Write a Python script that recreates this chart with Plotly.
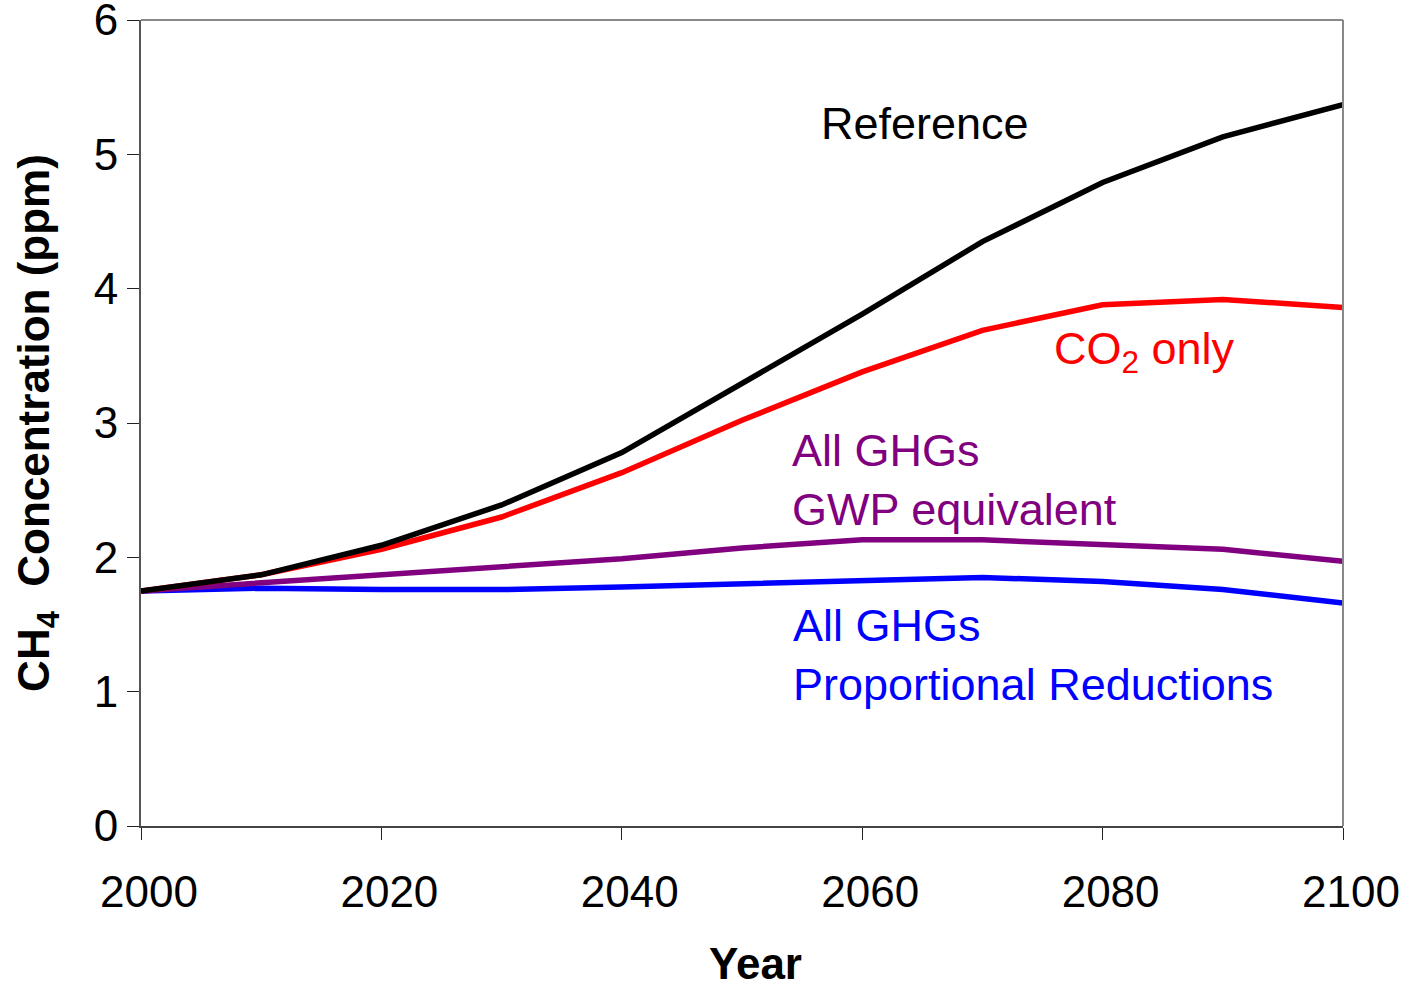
import plotly.graph_objects as go

years = [2000, 2010, 2020, 2030, 2040, 2050, 2060, 2070, 2080, 2090, 2100]
reference = [1.75, 1.87, 2.09, 2.39, 2.78, 3.30, 3.81, 4.35, 4.79, 5.13, 5.37]
co2_only = [1.75, 1.87, 2.06, 2.30, 2.63, 3.02, 3.38, 3.69, 3.88, 3.92, 3.86]
gwp_equiv = [1.75, 1.81, 1.87, 1.92, 1.99, 2.07, 2.13, 2.13, 2.10, 2.06, 1.97]
proportional = [1.75, 1.77, 1.76, 1.76, 1.78, 1.80, 1.82, 1.85, 1.82, 1.76, 1.66]

x_ticks = [2000, 2020, 2040, 2060, 2080, 2100]
y_ticks = [0, 1, 2, 3, 4, 5, 6]

FONT = "Liberation Sans, Arial, sans-serif"

fig = go.Figure()
series = [
    ("All GHGs Proportional Reductions", proportional, "#0000FF"),
    ("All GHGs GWP equivalent", gwp_equiv, "#800080"),
    ("CO2 only", co2_only, "#FF0000"),
    ("Reference", reference, "#000000"),
]
for name, vals, col in series:
    fig.add_trace(go.Scatter(x=years, y=vals, mode="lines", name=name,
                             line=dict(color=col, width=5.5), showlegend=False))

labels = [
    (2056.4, 5.23, "Reference", "#000000"),
    (2075.8, 3.53, "CO<sub>2</sub> only", "#FF0000"),
    (2054.0, 2.575, "All GHGs<br>GWP equivalent", "#800080"),
    (2054.1, 1.275, "All GHGs<br>Proportional Reductions", "#0000FF"),
]
for x, y, t, c in labels:
    fig.add_annotation(x=x, y=y, text=t, showarrow=False, xanchor="left",
                       yanchor="middle", align="left",
                       font=dict(family=FONT, size=45, color=c))

# x-axis title
fig.add_annotation(x=0.511, y=-0.1712, xref="paper", yref="paper", text="<b>Year</b>",
                   showarrow=False, xanchor="center", yanchor="middle",
                   font=dict(family=FONT, size=44, color="black"))

# top and right border in gray
fig.add_shape(type="line", xref="paper", yref="paper", x0=0, x1=1, y0=1, y1=1,
              line=dict(color="#888888", width=2))
fig.add_shape(type="line", xref="paper", yref="paper", x0=1, x1=1, y0=0, y1=1,
              line=dict(color="#888888", width=2))

fig.update_layout(
    width=1410, height=986,
    margin=dict(l=141, r=67, t=20, b=160),
    paper_bgcolor="white", plot_bgcolor="white",
    font=dict(family=FONT, color="black"),
    xaxis=dict(range=[2000, 2100], tickvals=x_ticks, showgrid=False, zeroline=False,
               showline=True, linecolor="#444444", linewidth=2, automargin=False,
               ticks="outside", ticklen=12, tickwidth=1, tickcolor="#222222",
               tickfont=dict(size=44, family=FONT), ticklabelstandoff=14,
               ticklabelshift=8),
    yaxis=dict(range=[0, 6], tickvals=y_ticks, showgrid=False, zeroline=False,
               showline=True, linecolor="#555555", linewidth=2, automargin=False,
               ticks="outside", ticklen=12, tickwidth=1, tickcolor="#222222",
               tickfont=dict(size=44, family=FONT), ticklabeloverflow="allow",
               title=dict(text="<b>CH<sub>4</sub>  Concentration (ppm)</b>",
                          font=dict(size=44, family=FONT), standoff=30)),
)

fig.write_html("out.html")
